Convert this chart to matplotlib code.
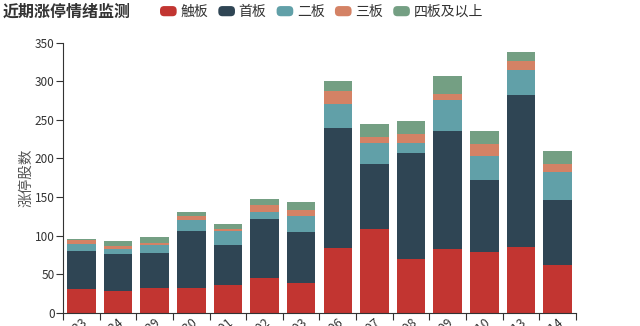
import matplotlib
matplotlib.use("Agg")
import matplotlib.pyplot as plt
from matplotlib.patches import FancyBboxPatch
from matplotlib.legend_handler import HandlerPatch
from matplotlib.container import BarContainer
import numpy as np

plt.rcParams['font.family'] = ['Noto Sans CJK SC', 'DejaVu Sans']

dates = ["2020-06-23", "2020-06-24", "2020-06-29", "2020-06-30", "2020-07-01",
         "2020-07-02", "2020-07-03", "2020-07-06", "2020-07-07", "2020-07-08",
         "2020-07-09", "2020-07-10", "2020-07-13", "2020-07-14"]
touch = [31, 28, 32, 32, 36, 45, 39, 84, 108, 70, 82, 79, 85, 62]
first = [49, 48, 45, 74, 52, 76, 66, 156, 85, 137, 153, 93, 197, 84]
second = [9, 7, 11, 14, 18, 10, 20, 30, 27, 13, 41, 31, 33, 37]
third = [5, 3, 2, 6, 3, 9, 8, 17, 8, 12, 8, 16, 11, 10]
fourth_plus = [1, 7, 8, 4, 6, 7, 10, 13, 17, 16, 23, 17, 12, 17]

series_names = ["触板", "首板", "二板", "三板", "四板及以上"]
series = [touch, first, second, third, fourth_plus]
colors = ["#c23531", "#2f4554", "#61a0a8", "#d48265", "#749f83"]

fig = plt.figure(figsize=(6.4, 3.26), dpi=100)
ax = fig.add_axes([63/640, 1-312.7/326, (576-63)/640, (312.7-42.7)/326])

x = np.arange(len(dates))
bottom = np.zeros(len(dates))
handles = []
for name, vals, c in zip(series_names, series, colors):
    b = ax.bar(x, vals, width=0.78, bottom=bottom, color=c, label=name, linewidth=0)
    handles.append(b)
    bottom += np.array(vals)

ax.set_xlim(-0.5, len(dates)-0.5)
ax.set_ylim(0, 350)
ax.set_yticks(np.arange(0, 351, 50))
ax.set_xticks(x)
ax.set_xticklabels(dates, rotation=40, ha='right', rotation_mode='anchor', fontsize=9, color='#333333')
ax.set_xticks(np.arange(-0.5, len(dates), 1), minor=True)
ax.tick_params(axis='x', which='major', length=0, pad=2)
ax.tick_params(axis='x', which='minor', length=5, color='#333333', width=0.8)
ax.tick_params(axis='y', length=5, color='#333333', width=0.8, labelsize=8.5, labelcolor='#333333', pad=1)
for s in ['top', 'right']:
    ax.spines[s].set_visible(False)
for s in ['left', 'bottom']:
    ax.spines[s].set_color('#333333')
    ax.spines[s].set_linewidth(0.8)
ax.set_ylabel("涨停股数", fontsize=10.5, color='#555555', labelpad=1)

fig.text(3/640, 1-12/326, "近期涨停情绪监测", fontsize=11.5, fontweight='bold', va='center', ha='left', color='#333333')


class RoundHandler(HandlerPatch):
    def create_artists(self, legend, orig_handle, xdescent, ydescent, width, height, fontsize, trans):
        p = FancyBboxPatch((-xdescent, -ydescent), width, height,
                           boxstyle="round,pad=0,rounding_size=3",
                           facecolor=orig_handle.patches[0].get_facecolor(), edgecolor='none',
                           transform=trans)
        return [p]


leg = fig.legend(handles=handles, labels=series_names, loc='center left',
                 bbox_to_anchor=(160/640, 1-12/326), ncol=5, frameon=False,
                 fontsize=10, handlelength=1.2, handleheight=0.75, handletextpad=0.25,
                 columnspacing=0.75, borderpad=0, borderaxespad=0,
                 handler_map={BarContainer: RoundHandler()})
for t in leg.get_texts():
    t.set_color('#333333')

fig.savefig("out.png", dpi=100)
